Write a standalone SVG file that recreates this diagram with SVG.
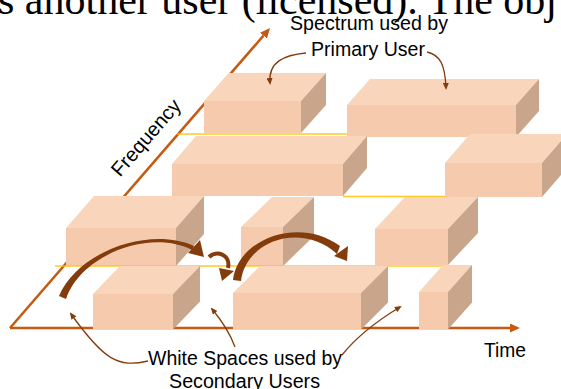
<svg xmlns="http://www.w3.org/2000/svg" width="561" height="389" viewBox="0 0 561 389">
<style>
.top{fill:#F8D5BB}
.front{fill:#F6CBAD}
.side{fill:#C8A58B}
.axis{stroke:#C55A11;stroke-width:2.5;fill:none}
.edge{stroke:#FFC000;stroke-width:1.4;fill:none;opacity:0.85}
.leader{stroke:#843C0C;stroke-width:1.3;fill:none}
.big{fill:#843C0C}
.lbl{font-family:"Liberation Sans",Arial,sans-serif;font-size:20px;fill:#000}
</style>
<defs>
<marker id="axArrow" markerUnits="userSpaceOnUse" markerWidth="10" markerHeight="9" refX="0" refY="4.5" orient="auto" viewBox="0 0 10 9">
<path d="M0,0 L10,4.5 L0,9 Z" fill="#C55A11"/>
</marker>
<marker id="ldArrow" markerUnits="userSpaceOnUse" markerWidth="7" markerHeight="6" refX="5" refY="3" orient="auto" viewBox="0 0 7 6">
<path d="M0,0 L7,3 L0,6 Z" fill="#843C0C"/>
</marker>
<linearGradient id="fadeL" x1="0" y1="0" x2="1" y2="0">
<stop offset="0" stop-color="#FFC000" stop-opacity="0"/>
<stop offset="1" stop-color="#FFC000" stop-opacity="1"/>
</linearGradient>
</defs>

<text x="-2" y="13.5" font-family="'Liberation Serif','Times New Roman',serif" font-size="42" fill="#000">s another user (licensed). The obj</text>

<g id="axes">
<line class="axis" x1="10" y1="328" x2="263.5" y2="35.6" marker-end="url(#axArrow)"/>
<line class="axis" x1="10" y1="328" x2="510" y2="328" marker-end="url(#axArrow)"/>
</g>

<g id="row1-lines">
<line x1="222" y1="76" x2="371" y2="76" stroke="url(#fadeL)" stroke-width="1.4"/>
<line class="edge" x1="177" y1="134" x2="347" y2="134"/>
</g>

<g id="block-a">
<polygon class="top" points="204,101 229,73 326,73 301,101"/>
<rect class="front" x="204" y="101" width="97" height="32"/>
<polygon class="side" points="301,101 326,73 326,105 301,133"/>
</g>
<g id="block-b">
<polygon class="top" points="347,105 370,79 539,79 516,105"/>
<rect class="front" x="347" y="105" width="169" height="32"/>
<polygon class="side" points="516,105 539,79 539,111 516,137"/>
</g>

<g id="block-c">
<polygon class="top" points="172,164 196,136 367,136 343,164"/>
<rect class="front" x="172" y="164" width="171" height="32"/>
<polygon class="side" points="343,164 367,136 367,168 343,196"/>
</g>
<g id="block-d">
<polygon class="top" points="445,163 470,134 567,134 542,163"/>
<rect class="front" x="445" y="163" width="97" height="34"/>
<polygon class="side" points="542,163 567,134 567,168 542,197"/>
</g>
<g id="row2-lines">
<line class="edge" x1="343" y1="196.5" x2="445" y2="196.5"/>
</g>

<g id="block-e">
<polygon class="top" points="66,228 94,196 204,196 176,228"/>
<rect class="front" x="66" y="228" width="110" height="38"/>
<polygon class="side" points="176,228 204,196 204,234 176,266"/>
</g>
<g id="block-f">
<polygon class="top" points="241,227 272,197 314,197 283,227"/>
<rect class="front" x="241" y="227" width="42" height="39"/>
<polygon class="side" points="283,227 314,197 314,236 283,266"/>
</g>
<g id="block-g">
<polygon class="top" points="375,229 405,197 478,197 448,229"/>
<rect class="front" x="375" y="229" width="73" height="36"/>
<polygon class="side" points="448,229 478,197 478,233 448,265"/>
</g>
<g id="row3-lines">
<line class="edge" x1="55" y1="266" x2="472" y2="266"/>
</g>

<g id="block-h">
<polygon class="top" points="93,294 120,266 200,266 173,294"/>
<rect class="front" x="93" y="294" width="80" height="35.5"/>
<polygon class="side" points="173,294 200,266 200,301.5 173,329.5"/>
</g>
<g id="block-i">
<polygon class="top" points="233,293 260,266 388,266 361,293"/>
<rect class="front" x="233" y="293" width="128" height="36.5"/>
<polygon class="side" points="361,293 388,266 388,302.5 361,329.5"/>
</g>
<g id="block-j">
<polygon class="top" points="419,292 443,265 472,265 448,292"/>
<rect class="front" x="419" y="292" width="29" height="37.5"/>
<polygon class="side" points="448,292 472,265 472,302.5 448,329.5"/>
</g>

<g id="connectors">
<path class="big" d="M59,296 C78,251 150,226 194,246 L192,250 C152,229 82,253 66,299 Z"/>
<polygon class="big" points="204,257 188,253 200,240"/>
<path d="M209,257 C216,250 231,254 228,268" stroke="#843C0C" stroke-width="4" fill="none"/>
<polygon class="big" points="222,281 219,268 234,271"/>
<path class="big" d="M233,280 C238,238 300,216 340,246 L337,254 C302,222 246,240 241,281 Z"/>
<polygon class="big" points="347,261 334,256 348,246"/>
<path class="leader" d="M306,53 C284,55 268,62 270,83" marker-end="url(#ldArrow)"/>
<path class="leader" d="M427,52 C440,55 445,64 446,88" marker-end="url(#ldArrow)"/>
<path class="leader" d="M148,361 C118,368 104,360 71,314" marker-end="url(#ldArrow)"/>
<path class="leader" d="M235,347 Q228,328 212,309" marker-end="url(#ldArrow)"/>
<path class="leader" d="M342,355 Q362,330 400,307" marker-end="url(#ldArrow)"/>
</g>

<g id="labels">
<text class="lbl" x="290" y="30" textLength="158" lengthAdjust="spacingAndGlyphs">Spectrum used by</text>
<text class="lbl" x="311" y="56" textLength="114" lengthAdjust="spacingAndGlyphs">Primary User</text>
<text class="lbl" transform="translate(151,142) rotate(-49)" text-anchor="middle">Frequency</text>
<text class="lbl" x="484" y="357" textLength="42" lengthAdjust="spacingAndGlyphs">Time</text>
<text class="lbl" x="148" y="365" textLength="194" lengthAdjust="spacingAndGlyphs">White Spaces used by</text>
<text class="lbl" x="169" y="388" textLength="151" lengthAdjust="spacingAndGlyphs">Secondary Users</text>
</g>
</svg>
